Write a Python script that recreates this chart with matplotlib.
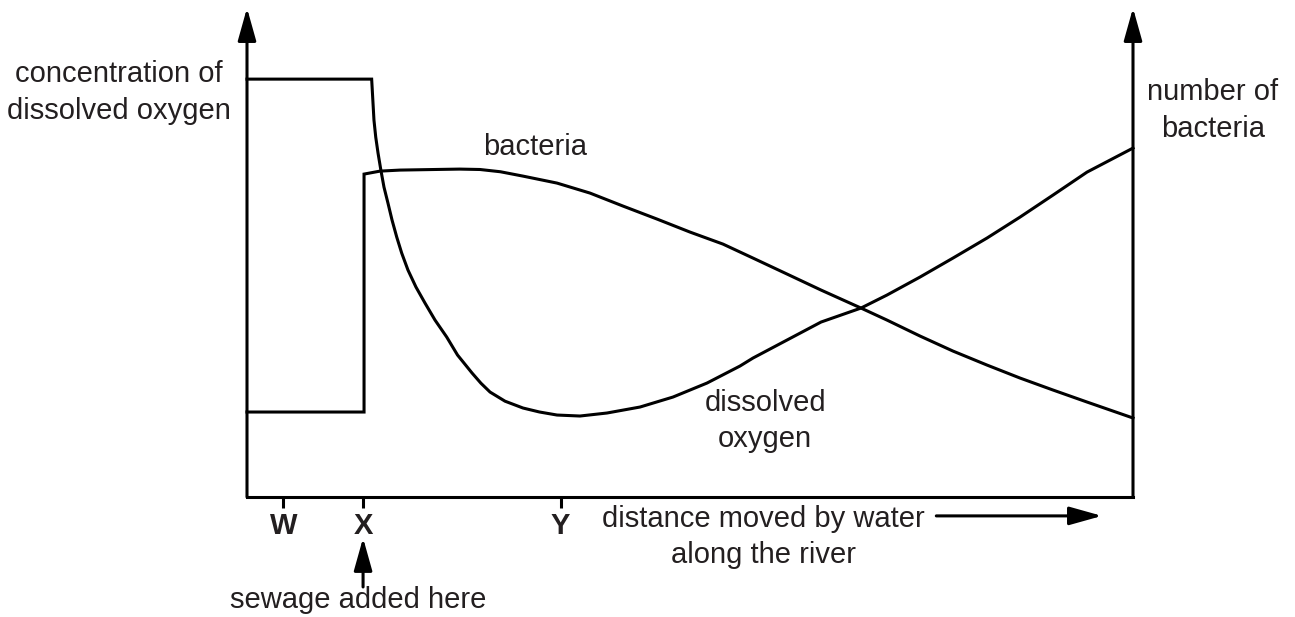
import numpy as np
import matplotlib
matplotlib.use("Agg")
import matplotlib.pyplot as plt
from matplotlib.patches import FancyArrowPatch

plt.rcParams['font.family'] = ['Liberation Sans', 'DejaVu Sans']

# distance along the river (0 = left edge of chart, 100 = right edge)
oxygen_x = [0, 14.07, 14.33, 14.53, 14.79, 15.09, 15.46, 15.91, 16.37, 16.90, 17.46,
            18.17, 19.07, 20.09, 21.22, 22.54, 23.76, 25.40, 26.40, 27.43, 29.12, 31.15,
            33.0, 34.99, 37.58, 40.63, 44.36, 48.08, 51.92, 55.64, 57.11, 60.95, 64.79,
            69.30, 72.23, 75.96, 79.68, 83.52, 87.25, 90.97, 94.81, 100]
oxygen_y = [92.89, 92.89, 83.78, 80.0, 76.44, 72.89, 68.89, 65.33, 61.56, 57.78, 54.22,
            50.44, 46.67, 43.11, 39.33, 35.56, 31.56, 27.56, 25.3, 23.33, 21.3, 19.78,
            18.9, 18.22, 18.0, 18.67, 20.0, 22.22, 25.33, 29.11, 30.89, 34.89, 38.89,
            42.0, 44.89, 48.89, 53.11, 57.56, 62.22, 67.11, 72.22, 77.56]

bacteria_x = [0, 13.21, 13.21, 15.01, 17.27, 21.78, 24.0, 26.30, 28.6, 31.15, 34.99,
              38.71, 42.44, 46.28, 50.0, 53.72, 57.11, 60.95, 64.79, 69.30, 72.23, 75.96,
              79.68, 83.52, 87.25, 90.97, 94.81, 100]
bacteria_y = [18.89, 18.89, 71.78, 72.44, 72.67, 72.82, 72.89, 72.8, 72.3, 71.33, 69.78,
              67.56, 64.67, 61.78, 58.89, 56.22, 53.11, 49.56, 46.0, 42.0, 39.33, 35.78,
              32.44, 29.33, 26.44, 23.78, 21.11, 17.56]

tick_pos = [4.1, 13.1, 35.4]
tick_labels = ['W', 'X', 'Y']

txt = '#231f20'
fs = 21
lw = 2.2

fig = plt.figure(figsize=(12.95, 6.17), dpi=100)
ax = fig.add_axes([247 / 1295, 120 / 617, 886 / 1295, 489 / 617])
ax.set_xlim(0, 100)
ax.set_ylim(0, 108.7)
for s in ['left', 'right', 'top']:
    ax.spines[s].set_visible(False)
ax.spines['bottom'].set_linewidth(lw)
ax.set_yticks([])
ax.set_xticks(tick_pos, tick_labels)
ax.tick_params(axis='x', length=8, width=lw, pad=3, labelsize=fs, labelcolor=txt)
for t in ax.get_xticklabels():
    t.set_fontweight('bold')

ax.plot(oxygen_x, oxygen_y, color='black', lw=lw, clip_on=False, solid_joinstyle='miter')
ax.plot(bacteria_x, bacteria_y, color='black', lw=lw, clip_on=False, solid_joinstyle='miter')

def arrow(x0, y0, x1, y1):
    a = FancyArrowPatch((x0, y0), (x1, y1), arrowstyle='-|>,head_length=1.0,head_width=0.28',
                        mutation_scale=20, color='black', lw=lw, clip_on=False,
                        shrinkA=0, shrinkB=0)
    ax.add_patch(a)

# vertical axes
arrow(0, 0, 0, 108.7)
arrow(100, 0, 100, 108.7)
# direction of flow
arrow(77.8, -4.2, 96.5, -4.2)
# sewage arrow
arrow(13.1, -20, 13.1, -9.1)

ax.text(-14.45, 90.0, 'concentration of\ndissolved oxygen', ha='center', va='center',
        fontsize=fs, color=txt, linespacing=1.4)
ax.text(109.0, 86.0, 'number of\nbacteria', ha='center', va='center',
        fontsize=fs, color=txt, linespacing=1.4)
ax.text(32.5, 77.8, 'bacteria', ha='center', va='center', fontsize=fs, color=txt)
ax.text(58.5, 16.9, 'dissolved\noxygen', ha='center', va='center', fontsize=fs,
        color=txt, linespacing=1.4)
ax.text(58.3, -8.9, 'distance moved by water\nalong the river', ha='center', va='center',
        fontsize=fs, color=txt, linespacing=1.4)
ax.text(12.5, -22.9, 'sewage added here', ha='center', va='center', fontsize=fs, color=txt)

fig.savefig('out.png', dpi=100)
